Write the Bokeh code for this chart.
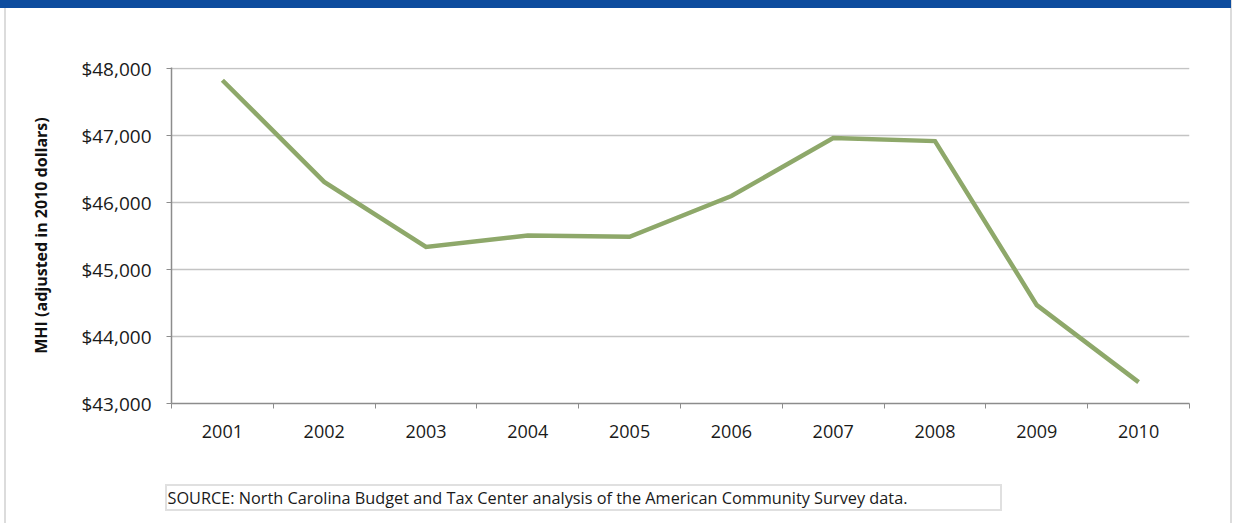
from bokeh.plotting import figure
from bokeh.models import (FixedTicker, NumeralTickFormatter, Range1d, Title)
from bokeh.embed import file_html
from bokeh.resources import INLINE

years = ["2001", "2002", "2003", "2004", "2005", "2006", "2007", "2008", "2009", "2010"]
mhi = [47830, 46310, 45340, 45510, 45490, 46100, 46965, 46920, 44470, 43320]
y_ticks = [43000, 44000, 45000, 46000, 47000, 48000]
source = "SOURCE: North Carolina Budget and Tax Center analysis of the American Community Survey data."

W, H = 1233, 523
g = "linear-gradient(#e0e0e0, #e0e0e0)"
bg = ("linear-gradient(#0d4c9e, #0d4c9e) 0 0 / 1231px 8px no-repeat, "
      f"{g} 165px 484px / 837px 2px no-repeat, "
      f"{g} 165px 509px / 837px 2px no-repeat, "
      f"{g} 165px 484px / 2px 27px no-repeat, "
      f"{g} 1000px 484px / 2px 27px no-repeat, "
      "linear-gradient(to right, white 0px, white 4px, #dcdcdc 4px, #dcdcdc 6px, white 6px, "
      "white 1230px, #dcdcdc 1230px, #dcdcdc 1232px, white 1232px)")
p = figure(width=W, height=H, output_backend="svg", toolbar_location=None,
           x_range=Range1d(0.5, len(years) + 0.5), y_range=Range1d(43000, 48020),
           min_border_left=171, min_border_right=44, min_border_top=67, min_border_bottom=0,
           styles={"background": bg})
p.outline_line_color = None
p.background_fill_color = "white"
p.border_fill_color = None

xs = list(range(1, len(years) + 1))
p.line(xs, mhi, line_color="#8ea86a", line_width=4.5, line_join="miter")

# x axis
xa = p.xaxis[0]
xa.ticker = FixedTicker(ticks=xs, minor_ticks=[i + 0.5 for i in range(0, len(years) + 1)])
xa.major_label_overrides = {i + 1: y for i, y in enumerate(years)}
xa.major_tick_out = 0
xa.major_tick_in = 0
xa.minor_tick_out = 5
xa.minor_tick_in = 0
xa.minor_tick_line_color = "#8c8c8c"
xa.axis_line_color = "#8c8c8c"
xa.axis_line_width = 1.5
xa.major_label_text_font = "Open Sans"
xa.major_label_text_font_size = "18px"
xa.major_label_text_color = "#1a1a1a"
xa.major_label_standoff = 16

# y axis
ya = p.yaxis[0]
ya.ticker = FixedTicker(ticks=y_ticks, minor_ticks=[])
ya.formatter = NumeralTickFormatter(format="$0,0")
ya.major_tick_out = 5
ya.major_tick_in = 0
ya.major_tick_line_color = "#8c8c8c"
ya.axis_line_color = "#8c8c8c"
ya.axis_line_width = 1.5
ya.major_label_text_font = "Open Sans"
ya.major_label_text_font_size = "19px"
ya.major_label_text_color = "#1a1a1a"
ya.major_label_standoff = 15
ya.axis_label = "MHI (adjusted in 2010 dollars)"
ya.axis_label_text_font = "Open Sans"
ya.axis_label_text_font_style = "bold"
ya.axis_label_text_font_size = "16px"
ya.axis_label_text_color = "#111111"
ya.axis_label_standoff = 26

p.xgrid.grid_line_color = None
p.ygrid.grid_line_color = "#c4c4c4"
p.ygrid.grid_line_width = 1.5

src = Title(text=source, align="left", offset=-6, standoff=30,
            text_font="Open Sans", text_font_size="16.3px", text_font_style="normal",
            text_color="#1a1a1a",
            padding=(2, 0, 29, 0))
p.add_layout(src, "below")

open("out.html", "w").write(file_html(p, INLINE))
